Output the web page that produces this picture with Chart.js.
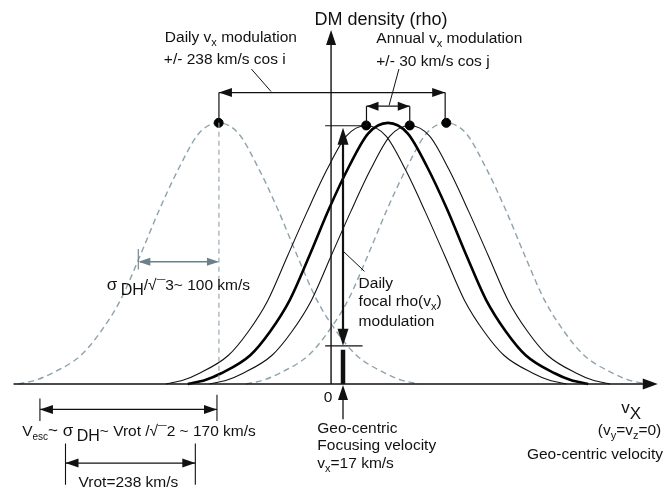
<!DOCTYPE html>
<html>
<head>
<meta charset="utf-8">
<script src="https://cdn.jsdelivr.net/npm/chart.js@4/dist/chart.umd.min.js"></script>
<style>
  html, body { margin: 0; padding: 0; background: #ffffff; }
  #wrap { width: 670px; height: 499px; position: relative; }
</style>
</head>
<body>
<div id="wrap"><canvas id="c" width="670" height="499"></canvas></div>
<script>
// ---- Data (x: velocity-like units, y: normalized DM density) ----
const dashedLeftX  = [-445,-420,-398,-356,-328,-300,-272,-244,-216,-188,-160,-132,-104,-76,-48,-20,8,36,78,100,125];
const dashedLeftY  = [0.0,0.015,0.04,0.11,0.20,0.32,0.49,0.67,0.83,0.96,1.00,0.96,0.83,0.67,0.49,0.32,0.20,0.11,0.04,0.015,0.0];
const dashedRightX = [-121,-96,-74,-32,-4,24,52,80,108,136,164,192,220,248,276,304,332,360,402,424,449];
const dashedRightY = [0.0,0.015,0.04,0.11,0.20,0.32,0.49,0.67,0.83,0.96,1.00,0.96,0.83,0.67,0.49,0.32,0.20,0.11,0.04,0.015,0.0];
const thinLeftX    = [-235,-210,-188,-146,-118,-90,-62,-34,-6,22,50,78,106,134,162,190,218,246,288,310,335];
const thinLeftY    = [0.0,0.015,0.04,0.11,0.20,0.32,0.49,0.66,0.82,0.95,0.99,0.95,0.82,0.66,0.49,0.32,0.20,0.11,0.04,0.015,0.0];
const thickX       = [-204,-179,-157,-115,-87,-59,-31,-3,25,53,81,109,137,165,193,221,249,277,319,341,366];
const thickY       = [0.0,0.015,0.04,0.11,0.20,0.32,0.49,0.67,0.83,0.96,1.00,0.96,0.83,0.67,0.49,0.32,0.20,0.11,0.04,0.015,0.0];
const thinRightX   = [-173,-148,-126,-84,-56,-28,0,28,56,84,112,140,168,196,224,252,280,308,350,372,397];
const thinRightY   = [0.0,0.015,0.04,0.11,0.20,0.32,0.49,0.66,0.82,0.95,0.99,0.95,0.82,0.66,0.49,0.32,0.20,0.11,0.04,0.015,0.0];
const peakDotX     = [-160, 50, 112, 164];
const peakDotY     = [1.00, 0.99, 0.99, 1.00];
const focusVelocity = 17;

const FONT = '"Liberation Sans", Arial, Helvetica, sans-serif';
const pts = (xs, ys) => xs.map((x, i) => ({ x: x, y: ys[i] }));

const annot = {
  id: 'annot',
  afterDatasetsDraw(chart) {
    const ctx = chart.ctx;
    const sx = chart.scales.x, sy = chart.scales.y;
    const X = v => sx.getPixelForValue(v);
    const Y = v => sy.getPixelForValue(v);
    const line = (x1, y1, x2, y2, lw, col, dash) => {
      ctx.save();
      ctx.strokeStyle = col || '#111';
      ctx.lineWidth = lw || 1;
      ctx.setLineDash(dash || []);
      ctx.beginPath(); ctx.moveTo(X(x1), Y(y1)); ctx.lineTo(X(x2), Y(y2)); ctx.stroke();
      ctx.restore();
    };
    const head = (tx, ty, dir, len, wid, col) => {
      const px = X(tx), py = Y(ty);
      const d = { l: [-1, 0], r: [1, 0], u: [0, -1], d: [0, 1] }[dir];
      const bx = px - d[0] * len, by = py - d[1] * len;
      const nx = -d[1], ny = d[0];
      ctx.save();
      ctx.fillStyle = col || '#111';
      ctx.beginPath();
      ctx.moveTo(px, py);
      ctx.lineTo(bx + nx * wid / 2, by + ny * wid / 2);
      ctx.lineTo(bx - nx * wid / 2, by - ny * wid / 2);
      ctx.closePath(); ctx.fill();
      ctx.restore();
    };
    const runs = (x, y, parts, align, base, col) => {
      ctx.save();
      ctx.fillStyle = col || '#111';
      ctx.textBaseline = 'alphabetic';
      let total = 0;
      const ws = parts.map(p => { ctx.font = p[1] + 'px ' + FONT; const w = ctx.measureText(p[0]).width; total += w; return w; });
      let cx = X(x);
      if (align === 'center') cx -= total / 2; else if (align === 'right') cx -= total;
      const by = Y(y) + 0.36 * (base || 15.5);
      parts.forEach((p, i) => { ctx.font = p[1] + 'px ' + FONT; ctx.fillText(p[0], cx, by + (p[2] || 0)); cx += ws[i]; });
      ctx.restore();
    };
    const F = 15.5, S = 11;

    // axes
    line(0, 0, 0, 1.34, 1.4);
    head(0, 1.356, 'u', 15, 10);
    line(-452, 0, 455, 0, 1.4);
    head(465, 0, 'r', 15, 11);
    runs(71, 1.4007, [['DM density (rho)', 18]], 'center', 18);
    runs(-4.2, -0.0487, [['0', F]], 'center');
    runs(413, -0.0936, [['v', 17, -2], ['X', 17, 4]], 'left', 17);
    runs(470, -0.176, [['(v', F], ['y', S, 4], ['=v', F], ['z', S, 4], ['=0)', F]], 'right');
    runs(472.5, -0.266, [['Geo-centric velocity', F]], 'right');

    // daily modulation bracket
    line(-159.6, 1.116, 162.4, 1.116, 1.2);
    line(-159.6, 1.116, -159.6, 1.0, 1.2);
    line(162.4, 1.116, 162.4, 1.0, 1.2);
    head(-159.6, 1.116, 'l', 13, 9);
    head(162.4, 1.116, 'r', 13, 9);
    line(-113.4, 1.206, -85.4, 1.120, 1);
    runs(-236.6, 1.3296, [['Daily v', F], ['x', S, 4], [' modulation', F]], 'left');
    runs(-238, 1.2472, [['+/- 238 km/s cos i', F]], 'left');

    // annual modulation bracket
    line(50.4, 1.064, 112, 1.064, 1.2);
    line(50.4, 1.064, 50.4, 0.99, 1.2);
    line(112, 1.064, 112, 0.99, 1.2);
    head(50.4, 1.064, 'l', 12, 9);
    head(112, 1.064, 'r', 12, 9);
    line(96.6, 1.206, 82.6, 1.067, 1);
    runs(64.4, 1.3258, [['Annual v', F], ['x', S, 4], [' modulation', F]], 'left');
    runs(64.4, 1.2397, [['+/- 30 km/s cos j', F]], 'left');

    // focusing velocity / daily focal modulation
    line(-8.4, 0.989, 50.4, 0.989, 1.1);
    line(focusVelocity, 0.93, focusVelocity, 0.19, 2.2);
    head(focusVelocity, 0.981, 'u', 17, 11);
    head(focusVelocity, 0.146, 'd', 17, 11);
    line(-8.4, 0.146, 44.8, 0.146, 1.1);
    line(focusVelocity, 0, focusVelocity, 0.131, 4.5);
    line(focusVelocity, -0.135, focusVelocity, -0.04, 1.3);
    head(focusVelocity, -0.004, 'u', 15, 10);
    line(18.2, 0.506, 47.6, 0.431, 1);
    runs(39.2, 0.3895, [['Daily', F]], 'left');
    runs(39.2, 0.3184, [['focal rho(v', F], ['x', S, 4], [')', F]], 'left');
    runs(39.2, 0.2434, [['modulation', F]], 'left');
    runs(-19.6, -0.1648, [['Geo-centric', F]], 'left');
    runs(-19.6, -0.2322, [['Focusing velocity', F]], 'left');
    runs(-19.6, -0.2996, [['v', F], ['x', S, 4], ['=17 km/s', F]], 'left');

    // sigma / sqrt3 width (gray)
    const G = '#6d7f88';
    line(-159.6, 1.0, -159.6, 0, 1.1, '#8fa3ad', [5, 4]);
    line(-272, 0.468, -162, 0.468, 1.3, G);
    head(-274.4, 0.468, 'l', 12, 8, G);
    head(-159.6, 0.468, 'r', 12, 8, G);
    line(-274.4, 0.517, -274.4, 0.438, 1.1, G);
    runs(-319.2, 0.382, [['σ\u2009', 17], ['DH', 16, 5], ['/√¯3~ 100 km/s', F]], 'left');

    // Vesc arrow
    line(-414.4, -0.0974, -162.4, -0.0974, 1.2);
    head(-414.4, -0.0974, 'l', 13, 9);
    head(-162.4, -0.0974, 'r', 13, 9);
    line(-414.4, -0.056, -414.4, -0.142, 1.1);
    line(-162.4, -0.041, -162.4, -0.142, 1.1);
    runs(-439.6, -0.1798, [['V', F], ['esc', 10, 4], ['~ σ\u2009', 17], ['DH', 16, 5], ['~ Vrot /√¯2 ~ 170 km/s', F]], 'left');

    // Vrot arrow
    line(-378, -0.303, -193.2, -0.303, 1.2);
    head(-378, -0.303, 'l', 13, 9);
    head(-193.2, -0.303, 'r', 13, 9);
    line(-378, -0.228, -378, -0.386, 1.1);
    line(-193.2, -0.228, -193.2, -0.386, 1.1);
    runs(-288.4, -0.3745, [['Vrot=238 km/s', F]], 'center');
  }
};

const dashedStyle = { borderColor: '#8fa3ad', borderWidth: 1.4, borderDash: [6, 4], pointRadius: 0, fill: false, cubicInterpolationMode: 'monotone', order: 2 };
const thinStyle = { borderColor: '#111', borderWidth: 1.1, pointRadius: 0, fill: false, cubicInterpolationMode: 'monotone', order: 1 };

new Chart(document.getElementById('c'), {
  type: 'line',
  data: {
    datasets: [
      Object.assign({ label: 'daily min', data: pts(dashedLeftX, dashedLeftY) }, dashedStyle),
      Object.assign({ label: 'daily max', data: pts(dashedRightX, dashedRightY) }, dashedStyle),
      Object.assign({ label: 'annual low', data: pts(thinLeftX, thinLeftY) }, thinStyle),
      Object.assign({ label: 'annual high', data: pts(thinRightX, thinRightY) }, thinStyle),
      { label: 'mean', data: pts(thickX, thickY), borderColor: '#000', borderWidth: 2.6, pointRadius: 0, fill: false, cubicInterpolationMode: 'monotone', order: 1 },
      { type: 'scatter', label: 'peaks', data: pts(peakDotX, peakDotY), showLine: false, pointRadius: 4.5, pointBackgroundColor: '#000', pointBorderColor: '#000', order: 0 }
    ]
  },
  options: {
    responsive: false,
    animation: false,
    layout: { padding: 0 },
    scales: {
      x: { type: 'linear', min: -463.4, max: 474.6, display: false },
      y: { type: 'linear', min: -0.4195, max: 1.4494, display: false }
    },
    plugins: { legend: { display: false }, tooltip: { enabled: false }, title: { display: false } }
  },
  plugins: [annot]
});
</script>
</body>
</html>
